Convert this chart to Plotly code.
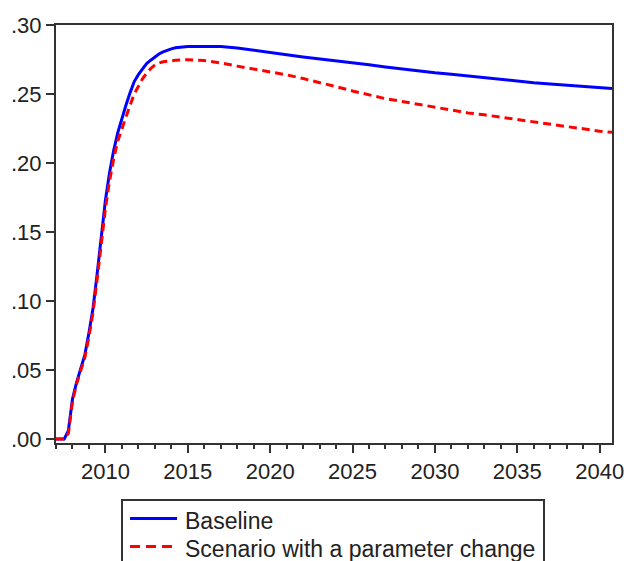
import plotly.graph_objects as go

# Quarterly observations through 2015, annual afterwards
years = [
    2007.00, 2007.25, 2007.50, 2007.75,
    2008.00, 2008.25, 2008.50, 2008.75,
    2009.00, 2009.25, 2009.50, 2009.75,
    2010.00, 2010.25, 2010.50, 2010.75,
    2011.00, 2011.25, 2011.50, 2011.75,
    2012.00, 2012.25, 2012.50, 2012.75,
    2013.00, 2013.25, 2013.50, 2013.75,
    2014.00, 2014.25, 2014.50, 2014.75,
    2015.00, 2016.00, 2017.00, 2018.00, 2019.00, 2020.00,
    2021.00, 2022.00, 2023.00, 2024.00, 2025.00, 2026.00,
    2027.00, 2028.00, 2029.00, 2030.00, 2031.00, 2032.00,
    2033.00, 2034.00, 2035.00, 2036.00, 2037.00, 2038.00,
    2039.00, 2040.00, 2040.75,
]

baseline = [
    0.000, 0.000, 0.000, 0.006,
    0.029, 0.041, 0.051, 0.061,
    0.077, 0.095, 0.120, 0.148,
    0.173, 0.193, 0.209, 0.222,
    0.233, 0.242, 0.251, 0.259,
    0.264, 0.268, 0.272, 0.2745,
    0.277, 0.279, 0.2805, 0.2818,
    0.2827, 0.2835, 0.2840, 0.2843,
    0.2845, 0.2845, 0.2844, 0.2834, 0.2816, 0.2800,
    0.2784, 0.2768, 0.2755, 0.2742, 0.2727, 0.2712,
    0.2696, 0.2681, 0.2668, 0.2654, 0.2643, 0.2630,
    0.2616, 0.2604, 0.2592, 0.2582, 0.2573, 0.2563,
    0.2553, 0.2545, 0.2540,
]

scenario = [
    0.000, 0.000, 0.000, 0.004,
    0.027, 0.040, 0.050, 0.059,
    0.074, 0.092, 0.116, 0.143,
    0.167, 0.187, 0.203, 0.216,
    0.225, 0.234, 0.242, 0.250,
    0.256, 0.261, 0.265, 0.2685,
    0.271, 0.2725, 0.2733, 0.2738,
    0.2742, 0.2744, 0.2746, 0.2748,
    0.2749, 0.2742, 0.2725, 0.2702, 0.2681, 0.2661,
    0.2639, 0.2612, 0.2585, 0.2553, 0.2522, 0.2495,
    0.2466, 0.2446, 0.2425, 0.2405, 0.2384, 0.2363,
    0.2349, 0.2332, 0.2314, 0.2293, 0.2279, 0.2264,
    0.2248, 0.2230, 0.2222,
]

series_names = ["Baseline", "Scenario with a parameter change"]

y_tick_values = [0.00, 0.05, 0.10, 0.15, 0.20, 0.25, 0.30]
y_tick_labels = [".00", ".05", ".10", ".15", ".20", ".25", ".30"]
x_tick_values = [2010, 2015, 2020, 2025, 2030, 2035, 2040]
x_tick_labels = ["2010", "2015", "2020", "2025", "2030", "2035", "2040"]

font_family = "Liberation Sans, Arial, sans-serif"
axis_color = "#333333"
text_color = "#222222"

W, H = 628, 561
M_L, M_R, M_T, M_B = 56, 16, 25, 118
plot_w = W - M_L - M_R
plot_h = H - M_T - M_B


def px_x(px):
    """Horizontal page pixel -> paper coordinate."""
    return (px - M_L) / plot_w


def px_y(py):
    """Vertical page pixel (from top) -> paper coordinate."""
    return (H - M_B - py) / plot_h


styles = [
    dict(color="#0000ff", width=3),
    dict(color="#ff0000", width=3, dash="8px,5px"),
]

fig = go.Figure()
for name, values, style in zip(series_names, [baseline, scenario], styles):
    fig.add_trace(go.Scatter(
        x=years, y=values, mode="lines", name=name, line=style,
        showlegend=False,
    ))

# Legend box below the plot, open at the bottom edge of the page
fig.add_shape(
    type="rect", xref="paper", yref="paper",
    x0=px_x(122), x1=px_x(544), y0=px_y(500), y1=px_y(600),
    line=dict(color="#333333", width=2), fillcolor="white", layer="above",
)
legend_rows = [518.5, 546.5]
legend_styles = [
    dict(color="#0000ff", width=3),
    dict(color="#ff0000", width=3, dash="10px,6px"),
]
for name, row, style in zip(series_names, legend_rows, legend_styles):
    fig.add_shape(
        type="line", xref="paper", yref="paper",
        x0=px_x(130), x1=px_x(177), y0=px_y(row), y1=px_y(row),
        line=style, layer="above",
    )
    fig.add_annotation(
        xref="paper", yref="paper", x=px_x(183), y=px_y(row + 2.5),
        xanchor="left", yanchor="middle", text=name, showarrow=False,
        font=dict(family=font_family, size=23, color=text_color),
    )

fig.update_layout(
    width=W, height=H,
    margin=dict(l=M_L, r=M_R, t=M_T, b=M_B, autoexpand=False),
    paper_bgcolor="white", plot_bgcolor="white",
    font=dict(family=font_family, size=22, color=text_color),
    showlegend=False,
)

fig.update_xaxes(
    range=[2007.0, 2040.75],
    tickmode="array", tickvals=x_tick_values, ticktext=x_tick_labels,
    ticks="outside", ticklen=8, tickwidth=1.5, tickcolor=axis_color,
    minor=dict(dtick=1, tick0=2007, ticks="outside", ticklen=4,
               tickwidth=1.5, tickcolor=axis_color, showgrid=False),
    showline=True, linecolor=axis_color, linewidth=2, mirror=True,
    showgrid=False, zeroline=False,
)
fig.update_yaxes(
    range=[-0.0029, 0.30],
    tickmode="array", tickvals=y_tick_values, ticktext=y_tick_labels,
    ticks="outside", ticklen=8, tickwidth=1.5, tickcolor=axis_color,
    showline=True, linecolor=axis_color, linewidth=2, mirror=True,
    showgrid=False, zeroline=False,
)

fig.write_html("out.html")
